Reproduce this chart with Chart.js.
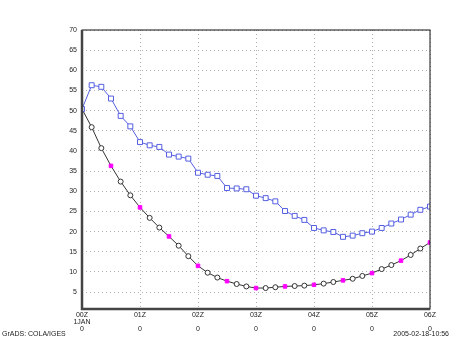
<!DOCTYPE html>
<html>
<head>
<meta charset="utf-8">
<script src="https://cdn.jsdelivr.net/npm/chart.js@4/dist/chart.umd.min.js"></script>
<style>
  body { margin: 0; background: #fff; }
  canvas { display: block; }
</style>
</head>
<body>
<canvas id="grads" width="450" height="338"></canvas>
<script>
// time in minutes after 00Z, one point every 10 min
const minutes = [0, 10, 20, 30, 40, 50, 60, 70, 80, 90, 100, 110, 120, 130, 140, 150, 160, 170, 180,
    190, 200, 210, 220, 230, 240, 250, 260, 270, 280, 290, 300, 310, 320, 330, 340, 350, 360];

const blueValues = [50.4, 56.3, 55.9, 53.0, 48.7, 46.1, 42.2, 41.4, 41.0, 39.1, 38.6, 38.1,
    34.6, 34.1, 33.8, 30.8, 30.7, 30.5, 28.9, 28.3, 27.5, 25.1, 23.9, 22.9, 20.9, 20.3,
    19.9, 18.7, 19.0, 19.6, 20.0, 20.9, 22.0, 23.0, 24.2, 25.4, 26.2];

const blackValues = [50.4, 45.9, 40.7, 36.3, 32.4, 29.0, 26.0, 23.4, 21.0, 18.8, 16.5, 13.9,
    11.5, 9.8, 8.6, 7.7, 7.0, 6.4, 6.0, 6.0, 6.2, 6.4, 6.5, 6.6, 6.8, 7.1, 7.5, 7.9,
    8.3, 9.0, 9.7, 10.7, 11.7, 12.8, 14.2, 15.8, 17.3];

const hourTicks = ['00Z', '01Z', '02Z', '03Z', '04Z', '05Z', '06Z'];
const dateTicks = ['1JAN', '', '', '', '', '', ''];
const yTicks = [5, 10, 15, 20, 25, 30, 35, 40, 45, 50, 55, 60, 65, 70];

const toPoints = vals => vals.map((v, i) => ({ x: minutes[i], y: v }));
const isHalfHour = ctx => ctx.dataIndex % 3 === 0;

const frame = {
    id: 'frame',
    afterDatasetsDraw(chart) {
        const a = chart.chartArea;
        const c = chart.ctx;
        c.save();
        c.strokeStyle = '#111';
        c.lineWidth = 1;
        c.strokeRect(a.left, a.top, a.right - a.left, a.bottom - a.top);
        // heavier left and bottom axes
        c.strokeStyle = '#444';
        c.lineWidth = 2.5;
        c.beginPath();
        c.moveTo(a.left, a.top);
        c.lineTo(a.left, a.bottom);
        c.lineTo(a.right, a.bottom);
        c.stroke();
        c.restore();
    },
    afterDraw(chart) {
        const c = chart.ctx;
        c.save();
        c.fillStyle = '#222';
        c.font = '7px "Liberation Sans", sans-serif';
        c.textBaseline = 'alphabetic';
        c.textAlign = 'left';
        c.fillText('GrADS: COLA/IGES', 2, 336);
        c.textAlign = 'right';
        c.fillText('2005-02-18-10:56', 449, 336);
        c.restore();
    }
};

const config = {
    type: 'line',
    data: {
        datasets: [{
            label: 'blue',
            data: toPoints(blueValues),
            borderColor: 'rgb(85, 95, 225)',
            borderWidth: 1,
            pointStyle: 'rect',
            pointRadius: 3.5,
            pointBorderWidth: 1,
            pointBorderColor: 'rgb(85, 95, 225)',
            pointBackgroundColor: '#fff',
            tension: 0
        }, {
            label: 'black',
            data: toPoints(blackValues),
            borderColor: '#333',
            borderWidth: 1,
            pointStyle: ctx => isHalfHour(ctx) ? 'rect' : 'circle',
            pointRadius: ctx => isHalfHour(ctx) ? 2.5 : 2.5,
            pointBorderWidth: 1,
            pointBorderColor: ctx => isHalfHour(ctx) ? '#ff00ff' : '#333',
            pointBackgroundColor: ctx => isHalfHour(ctx) ? '#ff00ff' : '#fff',
            tension: 0
        }]
    },
    options: {
        responsive: false,
        animation: false,
        layout: {
            padding: { top: 30, right: 20, bottom: 0, left: 0 }
        },
        plugins: {
            legend: { display: false },
            tooltip: { enabled: false }
        },
        scales: {
            x: {
                type: 'linear',
                min: 0,
                max: 360,
                afterFit: s => { s.height = 29; },
                border: { display: false, dash: [1, 3] },
                grid: {
                    color: '#b0b0b0',
                    lineWidth: 1,
                    drawTicks: false
                },
                ticks: {
                    stepSize: 60,
                    padding: 2,
                    maxRotation: 0,
                    color: '#222',
                    font: { family: 'Liberation Sans', size: 7, lineHeight: 1.05 },
                    callback: v => {
                        const i = Math.round(v / 60);
                        return [hourTicks[i], dateTicks[i], '0'];
                    }
                }
            },
            y: {
                min: 0.8,
                max: 70,
                afterFit: s => { s.width = 82; },
                afterBuildTicks: s => { s.ticks = yTicks.map(v => ({ value: v })); },
                border: { display: false, dash: [1, 3] },
                grid: {
                    color: '#b0b0b0',
                    lineWidth: 1,
                    drawTicks: false
                },
                ticks: {
                    padding: 5,
                    color: '#222',
                    font: { family: 'Liberation Sans', size: 7 }
                }
            }
        }
    },
    plugins: [frame]
};

const chart = new Chart(document.getElementById('grads'), config);
</script>
</body>
</html>
